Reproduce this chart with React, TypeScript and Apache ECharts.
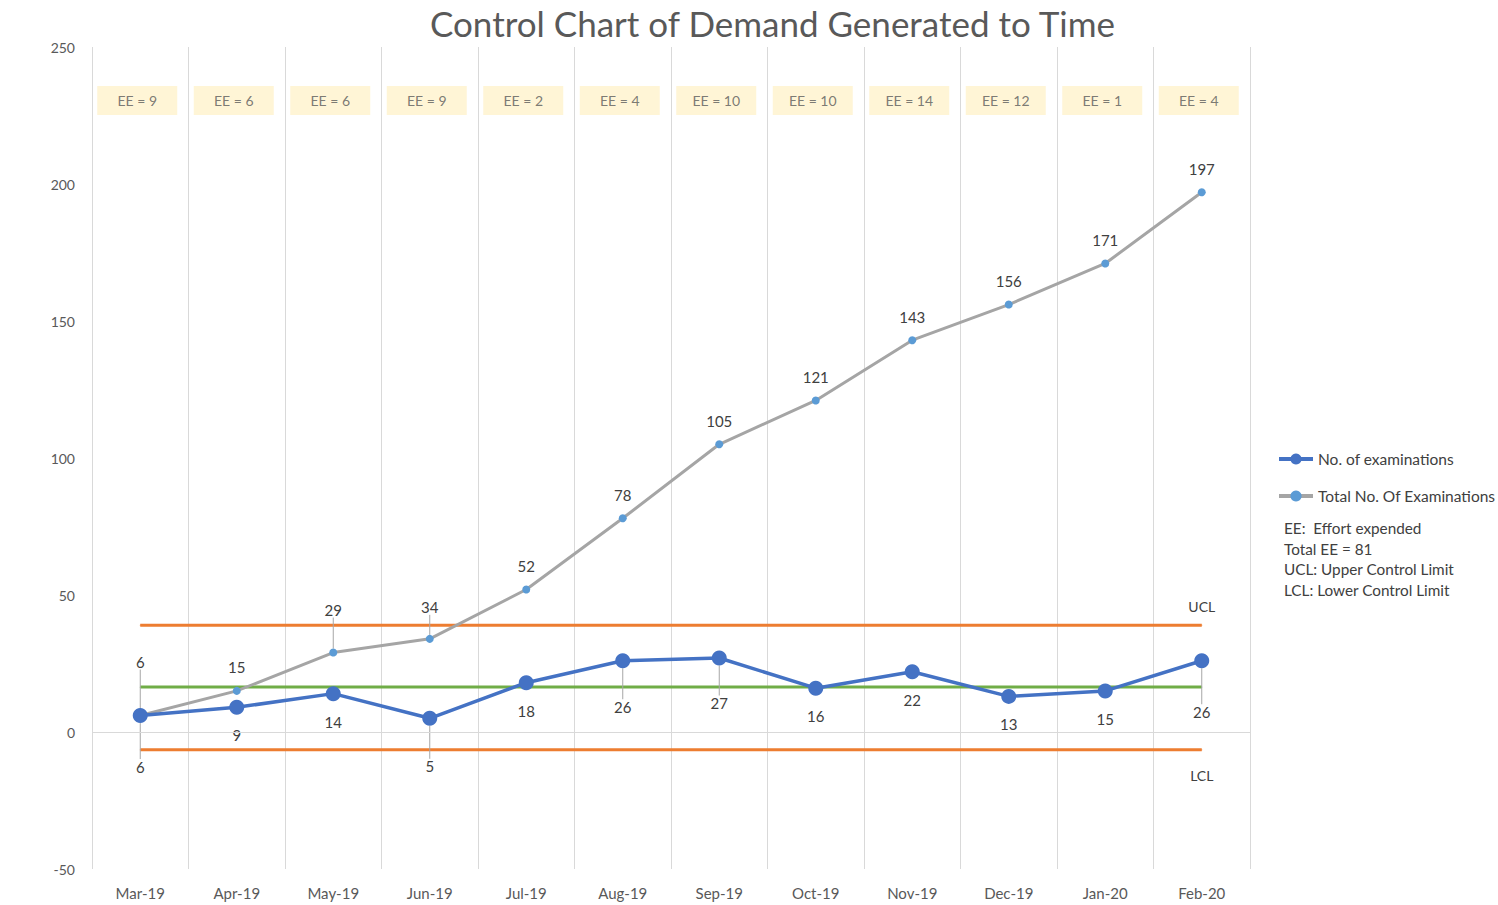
import React, { useEffect, useRef } from "react";
import * as echarts from "echarts";

const categories = ["Mar-19", "Apr-19", "May-19", "Jun-19", "Jul-19", "Aug-19", "Sep-19", "Oct-19", "Nov-19", "Dec-19", "Jan-20", "Feb-20"];
const examinations = [6, 9, 14, 5, 18, 26, 27, 16, 22, 13, 15, 26];
const totalExaminations = [6, 15, 29, 34, 52, 78, 105, 121, 143, 156, 171, 197];
const effortExpended = [9, 6, 6, 9, 2, 4, 10, 10, 14, 12, 1, 4];
const upperControlLimit = 39;
const meanValue = 16.4;
const lowerControlLimit = -6.5;
const yMin = -50;
const yMax = 250;
const yInterval = 50;
const notes = ["EE:  Effort expended", "Total EE = 81", "UCL: Upper Control Limit", "LCL: Lower Control Limit"];

const FONT = "Lato, 'Noto Sans', sans-serif";
const TEXT = "#404040";

// label displacement tweaks (layout only)
const blueShift: Record<number, number> = { 0: 23, 3: 20, 5: 18, 6: 17, 11: 23 };
const greyShift: Record<number, number> = { 0: -30, 2: -19, 3: -8 };
const EE_ROW = 230.5;

export default function App() {
  const ref = useRef<HTMLDivElement>(null);
  useEffect(() => {
    if (!ref.current) return;
    const chart = echarts.init(ref.current, undefined, { renderer: "svg" });
    const last = categories.length - 1;
    const guide = { show: true, lineStyle: { color: "#A6A6A6", width: 1 } };

    const blueData = examinations.map((v, i) =>
      blueShift[i] !== undefined ? { value: v, labelLine: guide } : { value: v }
    );
    const greyData = totalExaminations.map((v, i) =>
      greyShift[i] !== undefined ? { value: v, labelLine: guide } : { value: v }
    );

    const limitSeries = (name: string, val: number, color: string, lab: string, pos: string, dist: number) => ({
      name,
      type: "line",
      data: categories.map(() => val),
      symbol: "circle",
      symbolSize: 1,
      itemStyle: { color },
      lineStyle: { color, width: 3 },
      z: 1,
      label: {
        show: true,
        position: pos,
        distance: dist,
        color: TEXT,
        fontSize: 14,
        fontFamily: FONT,
        formatter: (p: any) => (p.dataIndex === last ? lab : ""),
      },
    });

    chart.setOption({
      animation: false,
      textStyle: { fontFamily: FONT },
      title: {
        text: "Control Chart of Demand Generated to Time",
        left: 425,
        top: 0,
        textStyle: { fontSize: 35, fontWeight: "normal", color: "#595959", fontFamily: FONT },
      },
      legend: {
        data: ["No. of examinations", "Total No. Of Examinations"],
        orient: "vertical",
        left: 1272,
        top: 446,
        itemWidth: 34,
        itemHeight: 14,
        itemGap: 21,
        lineStyle: { width: 4 },
        textStyle: { color: TEXT, fontSize: 15.5, fontFamily: FONT },
      },
      grid: { left: 92, right: 248, top: 47, bottom: 36 },
      xAxis: {
        type: "category",
        data: categories,
        boundaryGap: true,
        axisLine: { show: false },
        axisTick: { show: false },
        axisLabel: { color: "#595959", fontSize: 15, margin: 16, fontFamily: FONT },
        splitLine: { show: true, interval: 0, lineStyle: { color: "#D9D9D9", width: 1 } },
      },
      yAxis: {
        type: "value",
        min: yMin,
        max: yMax,
        interval: yInterval,
        axisLine: { show: false },
        axisTick: { show: false },
        splitLine: { show: false },
        axisLabel: { color: "#595959", fontSize: 14, margin: 17, fontFamily: FONT },
      },
      graphic: [
        {
          type: "text",
          left: 1284,
          top: 518,
          style: {
            text: notes.join("\n"),
            fontSize: 15.3,
            lineHeight: 20.5,
            fill: TEXT,
            fontFamily: FONT,
          },
        },
      ],
      series: [
        {
          name: "zero",
          type: "line",
          data: [],
          markLine: {
            silent: true,
            symbol: "none",
            label: { show: false },
            lineStyle: { color: "#D9D9D9", width: 1, type: "solid" },
            data: [{ yAxis: 0 }],
          },
        },
        limitSeries("UCL", upperControlLimit, "#ED7D31", "UCL", "top", 11),
        limitSeries("Mean", meanValue, "#70AD47", "", "top", 5),
        limitSeries("LCL", lowerControlLimit, "#ED7D31", "LCL", "bottom", 18),
        {
          name: "Total No. Of Examinations",
          type: "line",
          data: greyData,
          symbol: "circle",
          symbolSize: 8,
          z: 3,
          itemStyle: { color: "#5B9BD5" },
          lineStyle: { color: "#A5A5A5", width: 3 },
          label: { show: true, position: "top", distance: 12, color: TEXT, fontSize: 15, fontFamily: FONT },
          labelLine: { show: false, lineStyle: { color: "#A6A6A6", width: 1 } },
          labelLayout: (p: any) => (greyShift[p.dataIndex] !== undefined ? { dy: greyShift[p.dataIndex] } : {}),
        },
        {
          name: "No. of examinations",
          type: "line",
          data: blueData,
          symbol: "circle",
          symbolSize: 15,
          z: 4,
          itemStyle: { color: "#4472C4" },
          lineStyle: { color: "#4472C4", width: 3.5 },
          label: { show: true, position: "bottom", distance: 13, color: TEXT, fontSize: 15, fontFamily: FONT },
          labelLine: { show: false, lineStyle: { color: "#A6A6A6", width: 1 } },
          labelLayout: (p: any) => (blueShift[p.dataIndex] !== undefined ? { dy: blueShift[p.dataIndex] } : {}),
        },
        {
          name: "EE",
          type: "scatter",
          symbolSize: 0,
          z: 2,
          data: effortExpended.map((v, i) => ({ value: [i, EE_ROW], ee: v })),
          label: {
            show: true,
            position: "inside",
            offset: [-3, 0],
            formatter: (p: any) => `EE = ${p.data.ee}`,
            backgroundColor: "#FFF2CC",
            width: 80,
            height: 29,
            lineHeight: 29,
            align: "center",
            verticalAlign: "middle",
            color: "#595959",
            fontSize: 14,
            fontFamily: FONT,
          },
        },
      ],
    });
    return () => chart.dispose();
  }, []);
  return (
    <div style={{ position: "fixed", left: 0, top: 0, width: 1498, height: 905, background: "#fff" }}>
      <div ref={ref} style={{ width: 1498, height: 905 }} />
    </div>
  );
}
